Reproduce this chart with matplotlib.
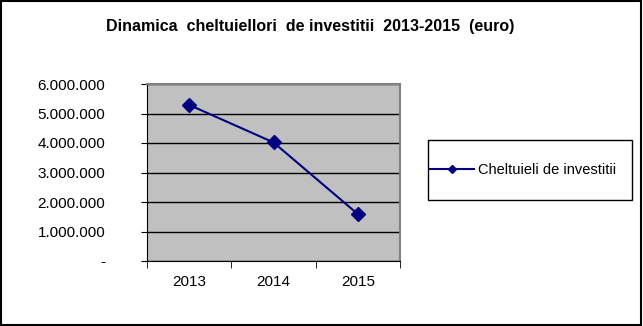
import matplotlib
matplotlib.use("Agg")
import matplotlib.pyplot as plt
from matplotlib.ticker import FuncFormatter, FixedLocator

# Datele graficului
ani = ["2013", "2014", "2015"]
cheltuieli = [5290000, 4020000, 1590000]
eticheta = "Cheltuieli de investitii"

plt.rcParams['font.family'] = ['Liberation Sans', 'DejaVu Sans']

fig = plt.figure(figsize=(6.43, 3.26), dpi=100)
ax = fig.add_axes([147 / 643, 1 - 261 / 326, 253 / 643, 177 / 326])

x = list(range(len(ani)))
ax.plot(x, cheltuieli, color='#000080', marker='D', markersize=7,
        linewidth=1.5, label=eticheta)

ax.set_facecolor('#c0c0c0')
ax.set_xlim(-0.5, len(ani) - 0.5)
ax.set_ylim(0, 6000000)
ax.set_yticks(range(0, 6000001, 1000000))
ax.yaxis.grid(True, color='black', linewidth=1)
ax.set_axisbelow(True)


def fmt(v, pos):
    if v == 0:
        return "-"
    return f"{int(v):,}".replace(",", ".")


ax.yaxis.set_major_formatter(FuncFormatter(fmt))
ax.set_xticks(x)
ax.set_xticklabels(ani)
ax.xaxis.set_minor_locator(FixedLocator([-0.5, 0.5, 1.5, 2.5]))
ax.tick_params(axis='x', which='major', length=0, pad=10, labelsize=11)
ax.tick_params(axis='x', which='minor', length=5, color='black')
ax.tick_params(axis='y', length=4, labelsize=11, pad=26)

for s in ['top', 'right']:
    ax.spines[s].set_color('#808080')
    ax.spines[s].set_linewidth(1.5)
for s in ['left', 'bottom']:
    ax.spines[s].set_color('black')

fig.text(310 / 643, 1 - 27 / 326, "Dinamica  cheltuiellori  de investitii  2013-2015  (euro)",
         ha='center', va='center', fontsize=11.5, fontweight='bold')

leg = fig.legend(loc='center left', bbox_to_anchor=(430 / 643, 1 - 170 / 326),
                 frameon=False, fontsize=10.5, borderpad=0, borderaxespad=0,
                 handlelength=3.0, handletextpad=0.3, markerscale=0.6)

# cadrul legendei
fig.patches.append(plt.Rectangle((428 / 643, 1 - 200 / 326), 204 / 643, 60 / 326,
                                 transform=fig.transFigure, fill=False,
                                 edgecolor='black', linewidth=1))

fig.patches.append(plt.Rectangle((0.002, 0.003), 0.995, 0.994, transform=fig.transFigure,
                                 fill=False, edgecolor='black', linewidth=1.5))

fig.savefig("out.png", dpi=100)
